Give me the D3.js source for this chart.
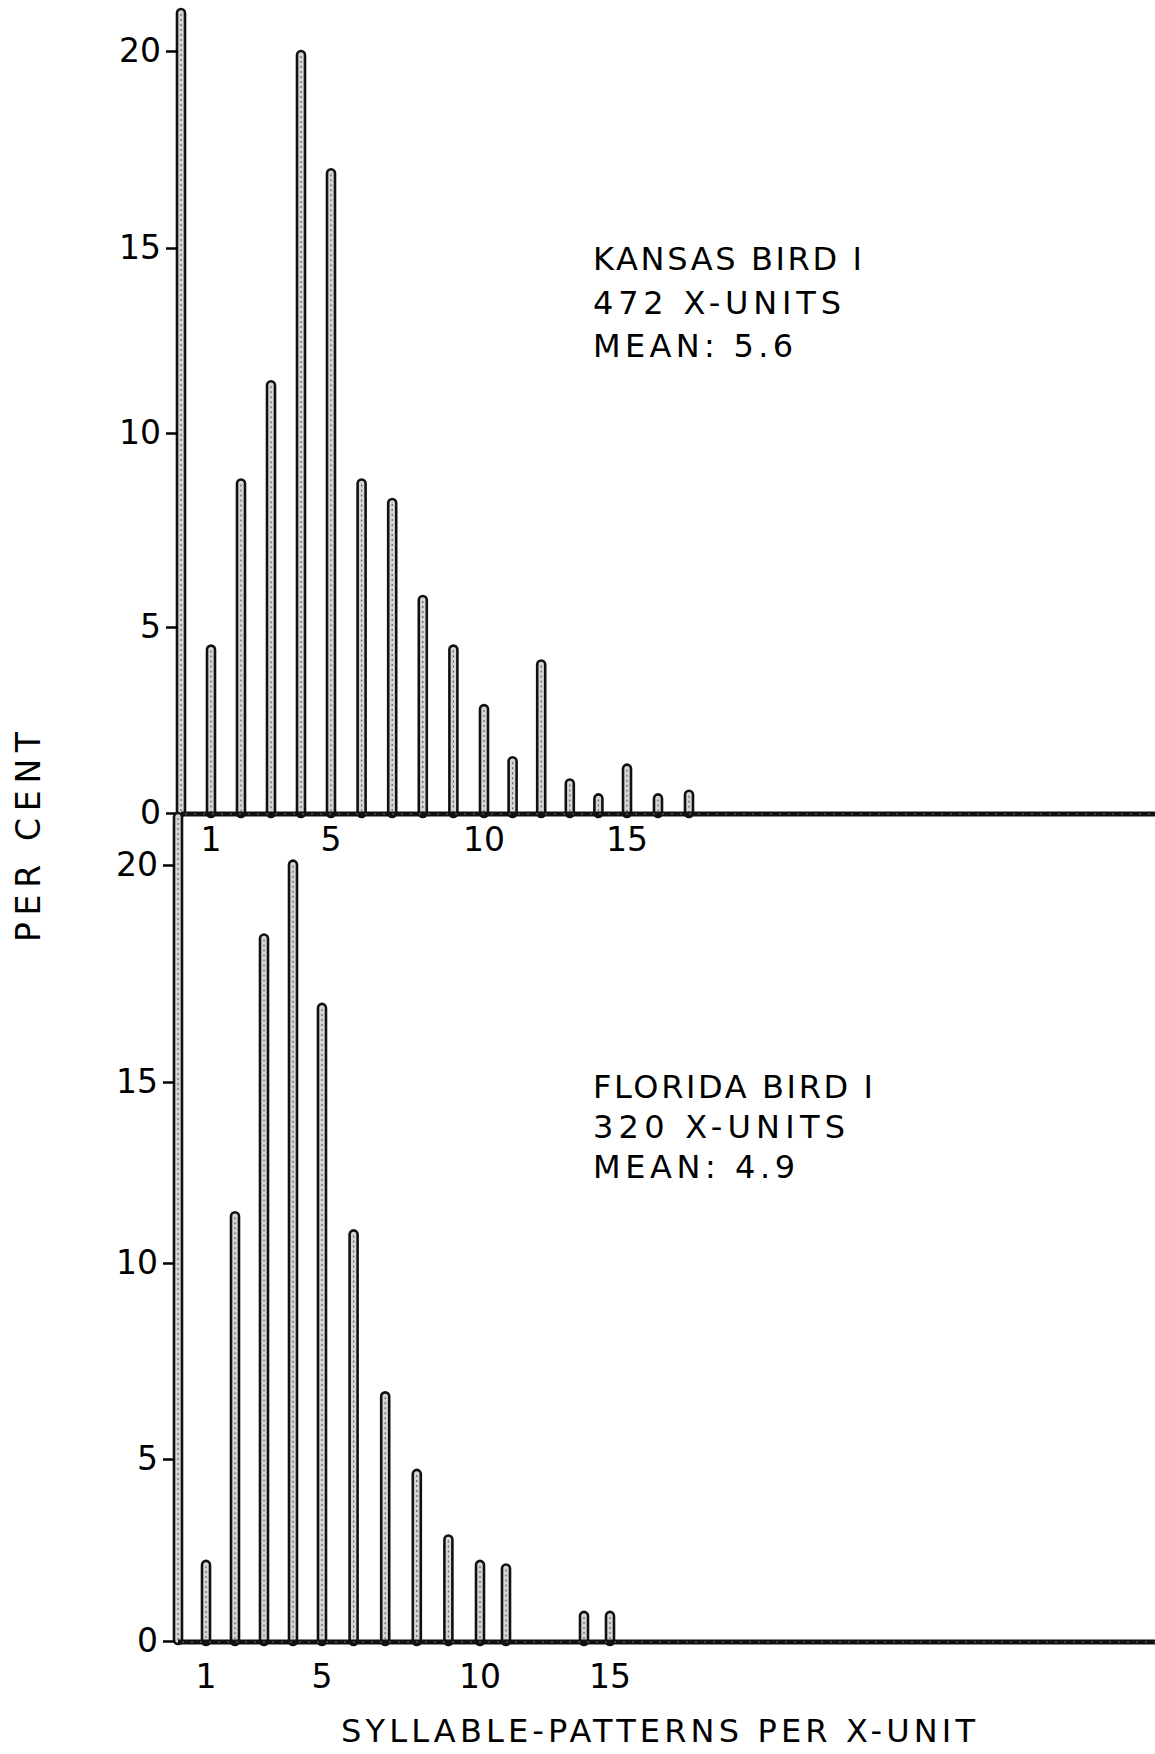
<!DOCTYPE html>
<html><head><meta charset="utf-8">
<script src="https://cdn.jsdelivr.net/npm/d3@7"></script>
<style>body{margin:0;background:#fff} svg{display:block}</style>
</head><body>
<script>
// ---- data ----
const kansasX   = [1, 2, 3, 4, 5, 6, 7, 8, 9, 10, 11, 12, 13, 14, 15, 16, 17];
const kansasPct = [4.5, 8.8, 11.4, 20.0, 17.0, 8.8, 8.3, 5.8, 4.5, 2.9, 1.5, 4.1, 0.9, 0.5, 1.3, 0.5, 0.6];
const floridaX   = [1, 2, 3, 4, 5, 6, 7, 8, 9, 10, 11, 14, 15];
const floridaPct = [2.2, 11.4, 18.4, 20.1, 16.8, 10.9, 6.7, 4.7, 2.9, 2.2, 2.1, 0.8, 0.8];
const yTickValues = [0, 5, 10, 15, 20];
const xTickValues = [1, 5, 10, 15];
const kansasNotes  = ["KANSAS BIRD I", "472 X-UNITS", "MEAN: 5.6"];
const floridaNotes = ["FLORIDA BIRD I", "320 X-UNITS", "MEAN: 4.9"];
const yTitle = "PER CENT";
const xTitle = "SYLLABLE-PATTERNS PER X-UNIT";

// ---- layout ----
const W = 1155, H = 1754;
const FONT = "'DejaVu Sans', sans-serif";
const INK = "#000";

const svg = d3.select("body").append("svg").attr("width", W).attr("height", H)
  .style("background", "#fff");

const panels = [
  { xs: kansasX, vs: kansasPct, notes: kansasNotes,
    xDomain: [1, 5, 10, 15, 17], xRange: [211, 331, 484, 627, 689],
    yRange: [813, 627, 433, 248, 51], axisX: 181, axisTopPx: 9, labelY: 851,
    noteX: 593, noteY: [270, 314, 357], noteLen: [269, 248, 200] },
  { xs: floridaX, vs: floridaPct, notes: floridaNotes,
    xDomain: [1, 5, 10, 15], xRange: [206, 322, 480, 610],
    yRange: [1641, 1459, 1263, 1082, 865], axisX: 178, axisTopPx: 813, labelY: 1688,
    noteX: 593, noteY: [1098, 1138, 1178], noteLen: [280, 252, 202] }
];

function hollowStem(g, x, yTop, yBot, w) {
  g.append("rect")
    .attr("x", x - w / 2).attr("y", yTop)
    .attr("width", w).attr("height", Math.max(0, yBot - yTop))
    .attr("rx", w / 2).attr("ry", w / 2)
    .attr("fill", "#d6d6d6").attr("stroke", "#111").attr("stroke-width", 2.6);
  if (yBot - yTop > 8) {
    g.append("line")
      .attr("x1", x).attr("x2", x)
      .attr("y1", yTop + 5).attr("y2", yBot - 3)
      .attr("stroke", "#666").attr("stroke-width", 1.2)
      .attr("stroke-dasharray", "2 3");
  }
}

panels.forEach(p => {
  const x = d3.scaleLinear().domain(p.xDomain).range(p.xRange);
  const y = d3.scaleLinear().domain(yTickValues).range(p.yRange);
  const g = svg.append("g");
  const y0 = y(0);

  // vertical axis drawn as a hollow stem like the bars
  hollowStem(g, p.axisX, p.axisTopPx, y0 + 3, 8);

  // bars
  const barG = g.append("g");
  p.xs.forEach((k, i) => {
    hollowStem(barG, x(k), y(p.vs[i]), y0 + 4, 8);
  });

  // baseline
  g.append("line")
    .attr("x1", p.axisX).attr("x2", W)
    .attr("y1", y0 + 1).attr("y2", y0 + 1)
    .attr("stroke", "#111").attr("stroke-width", 5);
  g.append("line")
    .attr("x1", p.axisX + 4).attr("x2", W)
    .attr("y1", y0 + 1).attr("y2", y0 + 1)
    .attr("stroke", "#888").attr("stroke-width", 0.8)
    .attr("stroke-dasharray", "2 7");

  // y axis ticks
  const ax = g.append("g")
    .attr("transform", `translate(${p.axisX - 3},0)`)
    .call(d3.axisLeft(y).tickValues(yTickValues).tickSize(12).tickPadding(5)
      .tickFormat(d3.format("d")));
  ax.select(".domain").remove();
  ax.selectAll(".tick line").attr("stroke", INK).attr("stroke-width", 2.5);
  ax.selectAll(".tick text")
    .attr("font-family", FONT).attr("font-size", 33).attr("fill", INK);

  // x tick labels
  g.selectAll("text.xl").data(xTickValues).enter().append("text")
    .attr("class", "xl")
    .attr("x", d => x(d)).attr("y", p.labelY)
    .attr("text-anchor", "middle")
    .attr("font-family", FONT).attr("font-size", 33).attr("fill", INK)
    .text(d => d);

  // annotation
  p.notes.forEach((t, i) => {
    g.append("text")
      .attr("x", p.noteX).attr("y", p.noteY[i])
      .attr("font-family", FONT).attr("font-size", 32).attr("fill", INK)
      .attr("textLength", p.noteLen[i]).attr("lengthAdjust", "spacing")
      .text(t);
  });
});

// axis titles
svg.append("text")
  .attr("transform", "translate(40,837) rotate(-90)")
  .attr("text-anchor", "middle")
  .attr("font-family", FONT).attr("font-size", 33).attr("fill", INK)
  .attr("textLength", 210).attr("lengthAdjust", "spacing")
  .text(yTitle);

svg.append("text")
  .attr("x", 341).attr("y", 1742)
  .attr("font-family", FONT).attr("font-size", 32).attr("fill", INK)
  .attr("textLength", 634).attr("lengthAdjust", "spacing")
  .text(xTitle);
</script>
</body></html>
